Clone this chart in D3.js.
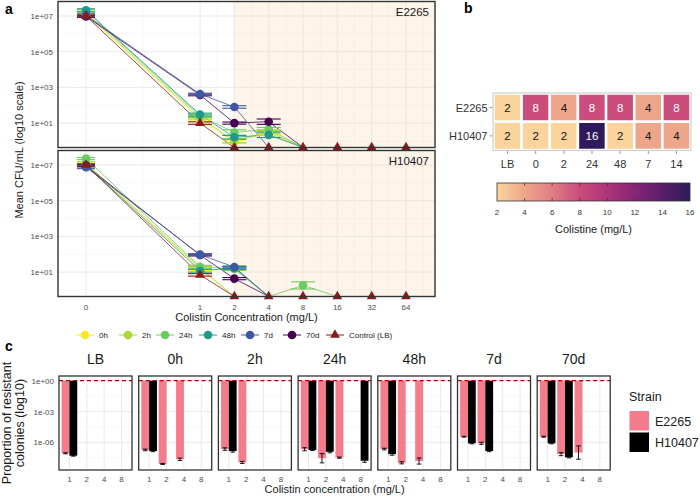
<!DOCTYPE html>
<html><head><meta charset="utf-8">
<script src="https://cdn.jsdelivr.net/npm/d3@7"></script>
<style>body{margin:0;background:#fff}svg{font-family:"Liberation Sans",Arial,Helvetica,sans-serif}</style>
</head><body><svg id="c" width="700" height="504"></svg>
<script>
// ---------- DATA ----------
const concs = [0, 1, 2, 4, 8, 16, 32, 64];
const concLabels = ["0", "1", "2", "4", "8", "16", "32", "64"];
const timeLabels = ["0h", "2h", "24h", "48h", "7d", "70d", "Control (LB)"];
const timeColors = ["#FDE725", "#A9D934", "#6CCB5F", "#1F9A8A", "#3F58A3", "#440154", "#8B1A1A"];
// mean CFU/mL per series (rows follow timeLabels), 0 = none detected
const cfuE2265 = [
  [1.3e7, 16, 0.9, 2.8, 0, 0, 0, 0],
  [1.5e7, 20, 1.0, 3.3, 0, 0, 0, 0],
  [1.9e7, 25, 3.0, 4.5, 0, 0, 0, 0],
  [2.1e7, 30, 1.6, 2.2, 0, 0, 0, 0],
  [1.1e7, 420, 80, 0, 0, 0, 0, 0],
  [0.95e7, 380, 10, 12, 0, 0, 0, 0],
  [1.0e7, 10, 0, 0, 0, 0, 0, 0]
];
const errE2265 = [
  [0.12, 0.08, 0.10, 0.12, 0, 0, 0, 0],
  [0.10, 0.08, 0.10, 0.12, 0, 0, 0, 0],
  [0.10, 0.08, 0.15, 0.10, 0, 0, 0, 0],
  [0.08, 0.08, 0.10, 0.15, 0, 0, 0, 0],
  [0.08, 0.05, 0.07, 0, 0, 0, 0, 0],
  [0.06, 0.05, 0.06, 0.15, 0, 0, 0, 0],
  [0.05, 0.07, 0, 0, 0, 0, 0, 0]
];
const cfuH10407 = [
  [1.1e7, 15, 0, 0, 0, 0, 0, 0],
  [1.3e7, 17, 0, 0, 0, 0, 0, 0],
  [2.3e7, 20, 15, 0, 1.8, 0, 0, 0],
  [1.0e7, 12, 17, 0, 0, 0, 0, 0],
  [0.75e7, 95, 19, 0, 0, 0, 0, 0],
  [0.9e7, 90, 4.3, 0, 0, 0, 0, 0],
  [1.0e7, 7, 0, 0, 0, 0, 0, 0]
];
const errH10407 = [
  [0.08, 0.08, 0, 0, 0, 0, 0, 0],
  [0.08, 0.08, 0, 0, 0, 0, 0, 0],
  [0.06, 0.08, 0.08, 0, 0.2, 0, 0, 0],
  [0.08, 0.08, 0.08, 0, 0, 0, 0, 0],
  [0.08, 0.05, 0.06, 0, 0, 0, 0, 0],
  [0.06, 0.05, 0.06, 0, 0, 0, 0, 0],
  [0.05, 0.07, 0, 0, 0, 0, 0, 0]
];
const cfuTicks = [10, 1e3, 1e5, 1e7];
const cfuTickLabels = ["1e+01", "1e+03", "1e+05", "1e+07"];

// panel b
const micCols = ["LB", "0", "2", "24", "48", "7", "14"];
const micStrains = ["E2265", "H10407"];
const micE2265 = [2, 8, 4, 8, 8, 4, 8];
const micH10407 = [2, 2, 2, 16, 2, 4, 4];
const micTicks = [2, 4, 6, 8, 10, 12, 14, 16];

// panel c
const facetNames = ["LB", "0h", "2h", "24h", "48h", "7d", "70d"];
const propConcs = ["1", "2", "4", "8"];
const propE2265 = [
  [8.5e-8, null, null, null],
  [1.8e-7, 7.8e-9, 2.2e-8, null],
  [2.2e-7, 1.1e-8, null, null],
  [2.1e-7, 2.8e-8, 3.2e-8, null],
  [2.2e-7, 1.0e-8, 1.5e-8, null],
  [3.5e-6, 8.0e-7, null, null],
  [3.5e-6, 7.0e-8, 1.0e-7, null]
];
const propH10407 = [
  [5.0e-8, null, null, null],
  [1.4e-7, null, null, null],
  [1.4e-7, null, null, null],
  [1.8e-7, 1.2e-7, null, 1.6e-8],
  [7.0e-8, null, null, null],
  [8.0e-7, 1.4e-7, null, null],
  [8.0e-7, 3.5e-8, null, null]
];
const propErrE2265 = [
  [0.05, 0, 0, 0],
  [0.08, 0.05, 0.12, 0],
  [0.12, 0.1, 0, 0],
  [0.15, 0.45, 0.06, 0],
  [0.08, 0.1, 0.3, 0],
  [0.04, 0.1, 0, 0],
  [0.05, 0.15, 0.65, 0]
];
const propErrH10407 = [
  [0.05, 0, 0, 0],
  [0.06, 0, 0, 0],
  [0.1, 0, 0, 0],
  [0.05, 0.1, 0, 0.15],
  [0.1, 0, 0, 0],
  [0.05, 0.06, 0, 0],
  [0.05, 0.06, 0, 0]
];
const propTicks = [1, 1e-3, 1e-6];
const propTickLabels = ["1e+00", "1e-03", "1e-06"];
const strainColors = ["#F47C8D", "#000000"];

// ---------- DRAW ----------
const svg = d3.select("#c");
const txtCol = "#4D4D4D";
const gridMajor = "#E6E6E6", gridMinor = "#F2F2F2";

// panel labels
svg.append("text").attr("x", 5).attr("y", 14).attr("font-size", 14).attr("font-weight", "bold").text("a");
svg.append("text").attr("x", 464).attr("y", 13).attr("font-size", 14).attr("font-weight", "bold").text("b");
svg.append("text").attr("x", 5).attr("y", 351).attr("font-size", 14).attr("font-weight", "bold").text("c");

// ===== Panel a =====
const aLeft = 58, aRight = 435, aH = 146;
const xA = d3.scaleLog().base(2).domain([0.1, 64]).range([86, 406]);
const xPos = c => xA(c === 0 ? 0.1 : c);
const facetsA = [
  {name: "E2265", top: 1.5, cfu: cfuE2265, err: errE2265},
  {name: "H10407", top: 150.5, cfu: cfuH10407, err: errH10407}
];
const drawOrder = [0, 1, 2, 3, 5, 4, 6];

facetsA.forEach(f => {
  const top = f.top, bottom = top + aH;
  const yA = d3.scaleLog().domain([10, 1e7]).range([top + 14.5 + 6 * 17.85, top + 14.5]);
  const yv = v => v > 0 ? yA(v) : bottom;
  const g = svg.append("g");
  g.append("rect").attr("x", aLeft).attr("y", top).attr("width", aRight - aLeft).attr("height", aH).attr("fill", "#fff");
  // grid
  const clip = g.append("g");
  const yMinor = [1, 100, 1e4, 1e6].filter(v => yA(v) < bottom && yA(v) > top);
  clip.selectAll(".ymi").data(yMinor).join("line").attr("x1", aLeft).attr("x2", aRight)
    .attr("y1", d => yA(d)).attr("y2", d => yA(d)).attr("stroke", gridMinor).attr("stroke-width", 0.6);
  const xTv = concs.map(c => c === 0 ? 0.1 : c);
  const xMinor = [];
  for (let i = 0; i < xTv.length - 1; i++) xMinor.push(Math.sqrt(xTv[i] * xTv[i + 1]));
  xMinor.push(64 * Math.SQRT2);
  clip.selectAll(".xmi").data(xMinor).join("line").attr("y1", top).attr("y2", bottom)
    .attr("x1", d => xA(d)).attr("x2", d => xA(d)).attr("stroke", gridMinor).attr("stroke-width", 0.6);
  clip.selectAll(".yma").data(cfuTicks).join("line").attr("x1", aLeft).attr("x2", aRight)
    .attr("y1", d => yA(d)).attr("y2", d => yA(d)).attr("stroke", gridMajor).attr("stroke-width", 0.9);
  clip.selectAll(".xma").data(concs).join("line").attr("y1", top).attr("y2", bottom)
    .attr("x1", d => xPos(d)).attr("x2", d => xPos(d)).attr("stroke", gridMajor).attr("stroke-width", 0.9);
  // shaded region
  g.append("rect").attr("x", xPos(2)).attr("y", top).attr("width", aRight - xPos(2)).attr("height", aH)
    .attr("fill", "#F7DDBB").attr("opacity", 0.3);
  // lines
  const line = d3.line().x((d, i) => xPos(concs[i])).y(d => yv(d));
  drawOrder.forEach(s => {
    g.append("path").attr("d", line(f.cfu[s])).attr("fill", "none")
      .attr("stroke", timeColors[s]).attr("stroke-width", 0.8);
  });
  // error bars
  drawOrder.forEach(s => {
    f.cfu[s].forEach((v, i) => {
      const e = f.err[s][i];
      if (!(v > 0) || !e) return;
      const x = xPos(concs[i]);
      const hw = concs[i] === 0 ? 9 : 12;
      const y1 = yA(v * Math.pow(10, e)), y2 = yA(v / Math.pow(10, e));
      const eg = g.append("g").attr("stroke", timeColors[s]).attr("stroke-width", 1.1);
      eg.append("line").attr("x1", x).attr("x2", x).attr("y1", y1).attr("y2", y2);
      eg.append("line").attr("x1", x - hw).attr("x2", x + hw).attr("y1", y1).attr("y2", y1);
      eg.append("line").attr("x1", x - hw).attr("x2", x + hw).attr("y1", y2).attr("y2", y2);
    });
  });
  // points (non-detects shown only for the control)
  drawOrder.forEach(s => {
    f.cfu[s].forEach((v, i) => {
      const x = xPos(concs[i]), y = yv(v);
      if (s === 6) {
        g.append("path").attr("d", d3.symbol(d3.symbolTriangle, 42)()).attr("transform", `translate(${x},${y})`)
          .attr("fill", timeColors[s]);
      } else if (v > 0) {
        g.append("circle").attr("cx", x).attr("cy", y).attr("r", 4.3).attr("fill", timeColors[s]);
      }
    });
  });
  // border
  g.append("rect").attr("x", aLeft).attr("y", top).attr("width", aRight - aLeft).attr("height", aH)
    .attr("fill", "none").attr("stroke", "#333").attr("stroke-width", 1.4);
  // strip label
  g.append("text").attr("x", aRight - 6).attr("y", top + 14).attr("text-anchor", "end").attr("font-size", 11.5)
    .attr("fill", "#1a1a1a").text(f.name);
  // y ticks
  g.selectAll(".yl").data(cfuTicks).join("text").attr("x", aLeft - 5).attr("y", d => yA(d) + 3)
    .attr("text-anchor", "end").attr("font-size", 8).attr("fill", txtCol).text((d, i) => cfuTickLabels[i]);
});
// x axis panel a
svg.append("g").selectAll("text").data(concs).join("text").attr("x", d => xPos(d)).attr("y", 309.5)
  .attr("text-anchor", "middle").attr("font-size", 8).attr("fill", txtCol).text((d, i) => concLabels[i]);
svg.append("text").attr("x", (aLeft + aRight) / 2).attr("y", 320.5).attr("text-anchor", "middle")
  .attr("font-size", 11).attr("fill", "#1a1a1a").text("Colistin Concentration (mg/L)");
svg.append("text").attr("transform", "translate(23,150) rotate(-90)").attr("text-anchor", "middle")
  .attr("font-size", 11).attr("fill", "#1a1a1a").text("Mean CFU/mL (log10 scale)");
// legend panel a
const legX = [85, 128, 165, 208, 250, 292, 335];
const lg = svg.append("g");
timeLabels.forEach((t, i) => {
  const x = legX[i], y = 335;
  lg.append("line").attr("x1", x - 9).attr("x2", x + 9).attr("y1", y).attr("y2", y)
    .attr("stroke", timeColors[i]).attr("stroke-width", 1);
  if (i === 6) {
    lg.append("path").attr("d", d3.symbol(d3.symbolTriangle, 42)()).attr("transform", `translate(${x},${y})`).attr("fill", timeColors[i]);
  } else {
    lg.append("circle").attr("cx", x).attr("cy", y).attr("r", 4.3).attr("fill", timeColors[i]);
  }
  lg.append("text").attr("x", x + 14).attr("y", y + 3).attr("font-size", 8).attr("fill", "#1a1a1a").text(t);
});

// ===== Panel b =====
const bL = 493.5, bR = 690.5, bT = 93.5, bB = 150;
const xB = d3.scaleBand().domain(micCols).range([bL, bR]);
const yB = d3.scaleBand().domain(micStrains).range([bT, bB]);
const micColor = d3.scaleLinear().domain(micTicks)
  .range(["#FBD49B", "#EEA68A", "#E07E84", "#CC4C7C", "#AE3479", "#862575", "#5A1D6B", "#2E1A5C"]);
const bg = svg.append("g");
[micE2265, micH10407].forEach((row, r) => {
  row.forEach((v, c) => {
    const x = xB(micCols[c]), y = yB(micStrains[r]);
    bg.append("rect").attr("x", x).attr("y", y).attr("width", xB.bandwidth()).attr("height", yB.bandwidth())
      .attr("fill", micColor(v)).attr("stroke", "#fff").attr("stroke-width", 2.5);
    bg.append("text").attr("x", x + xB.bandwidth() / 2).attr("y", y + yB.bandwidth() / 2 + 4)
      .attr("text-anchor", "middle").attr("font-size", 11.5).attr("fill", v >= 8 ? "#fff" : "#111").text(v);
  });
});
bg.append("rect").attr("x", bL - 0.5).attr("y", bT - 0.5).attr("width", bR - bL + 1).attr("height", bB - bT + 1)
  .attr("fill", "none").attr("stroke", "#D0D0D0").attr("stroke-width", 1.2);
micStrains.forEach(s => {
  const y = yB(s) + yB.bandwidth() / 2;
  bg.append("line").attr("x1", bL - 4).attr("x2", bL - 1).attr("y1", y).attr("y2", y).attr("stroke", "#999");
  bg.append("text").attr("x", bL - 6).attr("y", y + 4).attr("text-anchor", "end").attr("font-size", 11)
    .attr("fill", "#333").text(s);
});
micCols.forEach(c => {
  const x = xB(c) + xB.bandwidth() / 2;
  bg.append("line").attr("x1", x).attr("x2", x).attr("y1", bB + 1).attr("y2", bB + 4).attr("stroke", "#999");
  bg.append("text").attr("x", x).attr("y", 168).attr("text-anchor", "middle").attr("font-size", 11)
    .attr("fill", "#333").text(c);
});
// colorbar
const cbL = 497, cbR = 690, cbT = 183, cbB = 201;
const defs = svg.append("defs");
const grad = defs.append("linearGradient").attr("id", "cbg").attr("x1", "0%").attr("x2", "100%");
micTicks.forEach(v => grad.append("stop").attr("offset", ((v - 2) / 14 * 100) + "%").attr("stop-color", micColor(v)));
const xCb = d3.scaleLinear().domain([2, 16]).range([cbL, cbR]);
bg.append("rect").attr("x", cbL).attr("y", cbT).attr("width", cbR - cbL).attr("height", cbB - cbT).attr("fill", "url(#cbg)")
  .attr("stroke", "#333").attr("stroke-width", 0.8);
micTicks.forEach(v => {
  const x = xCb(v);
  if (v > 2 && v < 16) {
    bg.append("line").attr("x1", x).attr("x2", x).attr("y1", cbT).attr("y2", cbT + 3).attr("stroke", "#333").attr("stroke-width", 0.7);
    bg.append("line").attr("x1", x).attr("x2", x).attr("y1", cbB - 3).attr("y2", cbB).attr("stroke", "#333").attr("stroke-width", 0.7);
  }
  bg.append("text").attr("x", x).attr("y", 215).attr("text-anchor", "middle").attr("font-size", 8).attr("fill", "#333").text(v);
});
bg.append("text").attr("x", (cbL + cbR) / 2).attr("y", 233).attr("text-anchor", "middle").attr("font-size", 11)
  .attr("fill", "#1a1a1a").text("Colistine (mg/L)");

// ===== Panel c =====
const cT = 376, cB = 470, cW = 73, cStep = 79.7, cL0 = 59;
const yC = d3.scaleLog().domain([1e-6, 1]).range([442.3, 380.7]);
const cg = svg.append("g");
facetNames.forEach((fn, fi) => {
  const left = cL0 + fi * cStep;
  const xC = d3.scalePoint().domain(propConcs).range([left, left + cW]).padding(0.6);
  const step = xC.step();
  const bw = step * 0.9 / 2;
  cg.append("rect").attr("x", left).attr("y", cT).attr("width", cW).attr("height", cB - cT).attr("fill", "#fff");
  const yMin = [Math.pow(10, -1.5), Math.pow(10, -4.5), Math.pow(10, -7.5)];
  yMin.forEach(v => cg.append("line").attr("x1", left).attr("x2", left + cW).attr("y1", yC(v)).attr("y2", yC(v))
    .attr("stroke", gridMinor).attr("stroke-width", 0.6));
  propTicks.forEach(v => cg.append("line").attr("x1", left).attr("x2", left + cW).attr("y1", yC(v)).attr("y2", yC(v))
    .attr("stroke", gridMajor).attr("stroke-width", 0.9));
  propConcs.forEach(c => cg.append("line").attr("x1", xC(c)).attr("x2", xC(c)).attr("y1", cT).attr("y2", cB)
    .attr("stroke", gridMajor).attr("stroke-width", 0.9));
  [propE2265, propH10407].forEach((arr, si) => {
    const errs = si === 0 ? propErrE2265 : propErrH10407;
    arr[fi].forEach((v, ci) => {
      if (v == null) return;
      const x0 = xC(propConcs[ci]) - bw + si * bw;
      cg.append("rect").attr("x", x0).attr("y", yC(1)).attr("width", bw).attr("height", yC(v) - yC(1))
        .attr("fill", strainColors[si]);
      const e = errs[fi][ci];
      if (e) {
        const xm = x0 + bw / 2, y1 = yC(v * Math.pow(10, e)), y2 = yC(v / Math.pow(10, e));
        const eg = cg.append("g").attr("stroke", "#000").attr("stroke-width", 0.9);
        eg.append("line").attr("x1", xm).attr("x2", xm).attr("y1", y1).attr("y2", y2);
        eg.append("line").attr("x1", xm - 2.3).attr("x2", xm + 2.3).attr("y1", y1).attr("y2", y1);
        eg.append("line").attr("x1", xm - 2.3).attr("x2", xm + 2.3).attr("y1", y2).attr("y2", y2);
      }
    });
  });
  cg.append("line").attr("x1", left).attr("x2", left + cW).attr("y1", yC(1)).attr("y2", yC(1))
    .attr("stroke", "#B00000").attr("stroke-width", 1.3).attr("stroke-dasharray", "4,3");
  cg.append("rect").attr("x", left).attr("y", cT).attr("width", cW).attr("height", cB - cT)
    .attr("fill", "none").attr("stroke", "#333").attr("stroke-width", 1.3);
  cg.append("text").attr("x", left + cW / 2).attr("y", 364).attr("text-anchor", "middle").attr("font-size", 14)
    .attr("fill", "#1a1a1a").text(fn);
  propConcs.forEach(c => cg.append("text").attr("x", xC(c)).attr("y", 481.5).attr("text-anchor", "middle")
    .attr("font-size", 8).attr("fill", txtCol).text(c));
  if (fi === 0) {
    propTicks.forEach((v, i) => cg.append("text").attr("x", left - 5).attr("y", yC(v) + 3).attr("text-anchor", "end")
      .attr("font-size", 8).attr("fill", txtCol).text(propTickLabels[i]));
  }
});
cg.append("text").attr("x", cL0 + (6 * cStep + cW) / 2).attr("y", 492.5).attr("text-anchor", "middle").attr("font-size", 11)
  .attr("fill", "#1a1a1a").text("Colistin concentration (mg/L)");
const yt = cg.append("text").attr("transform", "translate(13,423) rotate(-90)").attr("text-anchor", "middle")
  .attr("font-size", 12.5).attr("fill", "#1a1a1a");
yt.append("tspan").attr("x", 0).attr("dy", -2).text("Proportion of resistant");
yt.append("tspan").attr("x", 0).attr("dy", 13).text("colonies (log10)");
// legend strain
cg.append("text").attr("x", 629).attr("y", 401).attr("font-size", 12.5).attr("fill", "#1a1a1a").text("Strain");
["E2265", "H10407"].forEach((s, i) => {
  const y = 411 + i * 21.5;
  cg.append("rect").attr("x", 629.5).attr("y", y).attr("width", 19.5).attr("height", 19.5).attr("fill", strainColors[i]);
  cg.append("text").attr("x", 655).attr("y", y + 14.5).attr("font-size", 12.5).attr("fill", "#1a1a1a").text(s);
});
</script></body></html>
